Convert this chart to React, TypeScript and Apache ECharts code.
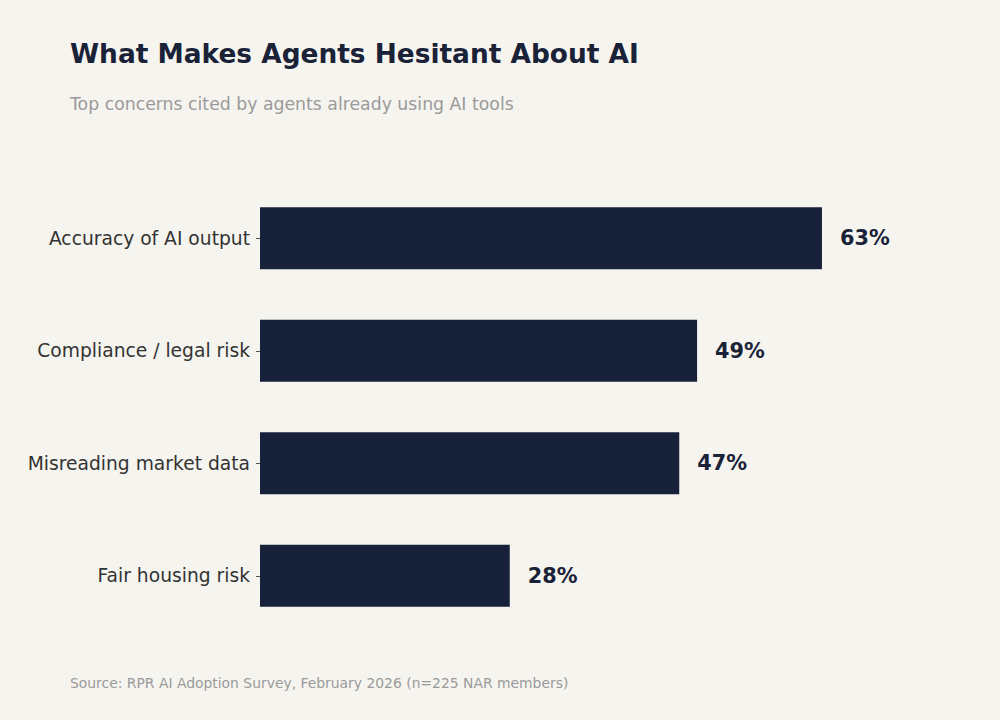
import React, { useEffect, useRef } from "react";
import * as echarts from "echarts";

// Survey concerns, listed top to bottom
const categories = [
  "Accuracy of AI output",
  "Compliance / legal risk",
  "Misreading market data",
  "Fair housing risk",
];
const shares = [63, 49, 47, 28];

const titleText = "What Makes Agents Hesitant About AI";
const subtitleText = "Top concerns cited by agents already using AI tools";
const sourceText = "Source: RPR AI Adoption Survey, February 2026 (n=225 NAR members)";

const FONT = "DejaVu Sans";
const NAVY = "#17213a";
const BG = "#f6f4ef";

export default function App() {
  const ref = useRef<HTMLDivElement>(null);

  useEffect(() => {
    document.body.style.margin = "0";
    document.body.style.background = BG;
    if (!ref.current) return;
    const chart = echarts.init(ref.current, null, { renderer: "svg" });
    chart.setOption({
      animation: false,
      backgroundColor: BG,
      textStyle: { fontFamily: FONT },
      title: [
        {
          text: titleText,
          left: 70,
          top: 40,
          padding: 0,
          textStyle: { fontFamily: FONT, fontSize: 26.4, fontWeight: "bold", color: "#1a2238" },
        },
        {
          text: subtitleText,
          left: 70,
          top: 95,
          padding: 0,
          textStyle: { fontFamily: FONT, fontSize: 17.3, fontWeight: "normal", color: "#9a9a9a" },
        },
        {
          text: sourceText,
          left: 70,
          top: 676,
          padding: 0,
          textStyle: { fontFamily: FONT, fontSize: 13.9, fontWeight: "normal", color: "#9a9a9a" },
        },
      ],
      grid: { left: 260, top: 182, width: 669, height: 450, containLabel: false },
      xAxis: {
        type: "value",
        min: 0,
        max: 75,
        show: false,
      },
      yAxis: {
        type: "category",
        data: categories,
        inverse: true,
        axisLine: { show: false },
        axisTick: { show: true, length: 4, lineStyle: { color: "#555", width: 1 }, alignWithLabel: true },
        axisLabel: { margin: 10, fontFamily: FONT, fontSize: 18.7, color: "#333" },
        splitLine: { show: false },
      },
      series: [
        {
          type: "bar",
          data: shares,
          barWidth: 62,
          itemStyle: { color: NAVY },
          label: {
            show: true,
            position: "right",
            distance: 18,
            formatter: "{c}%",
            fontFamily: FONT,
            fontSize: 20.8,
            fontWeight: "bold",
            color: "#1a2238",
          },
        },
      ],
    });
    return () => chart.dispose();
  }, []);

  return <div ref={ref} style={{ width: 1000, height: 720 }} />;
}
